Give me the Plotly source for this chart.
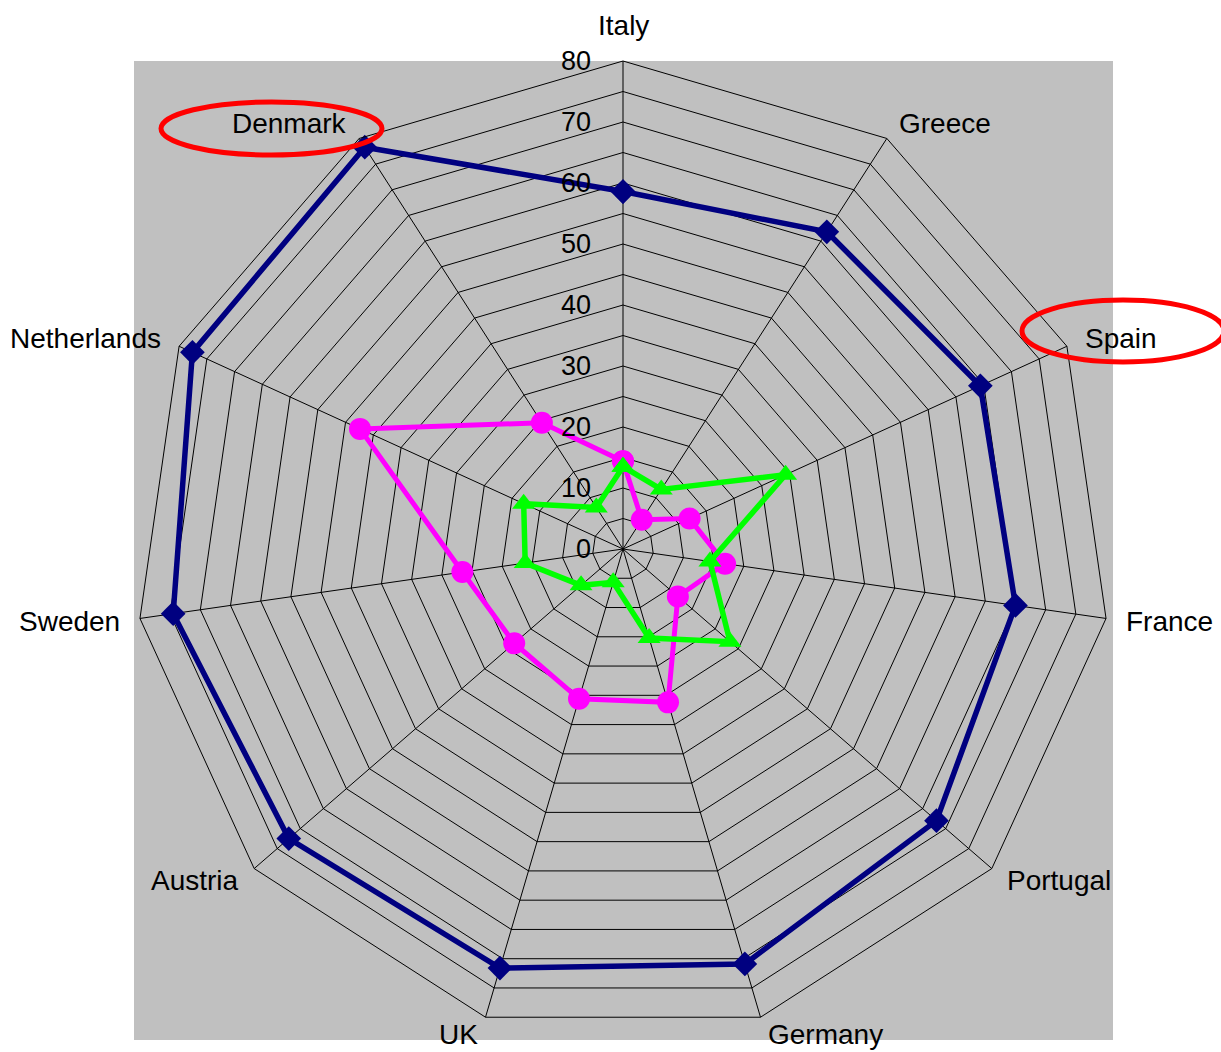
import math
import plotly.graph_objects as go

categories = ["Italy", "Greece", "Spain", "France", "Portugal", "Germany",
              "UK", "Austria", "Sweden", "Netherlands", "Denmark"]
series_blue = [58.6, 61.8, 64.4, 65.0, 68.0, 70.9, 71.6, 72.5, 74.5, 77.6, 78.3]
series_magenta = [14.4, 5.7, 12.0, 16.9, 11.9, 26.2, 25.6, 23.6, 26.6, 47.4, 24.6]
series_green = [13.5, 11.6, 29.3, 14.4, 23.2, 15.2, 5.7, 9.1, 16.2, 17.9, 8.1]
tick_vals = list(range(0, 85, 5))
tick_text = ["0", "", "10", "", "20", "", "30", "", "40", "", "50", "", "60", "", "70", "", "80"]
r_max = 80

W, H = 1221, 1052
ML, MR, MT, MB = 135, 110, 61, 15
PW, PH = W - ML - MR, H - MT - MB


def px_x(x):
    return (x - ML) / PW


def px_y(y):
    return 1 - (y - MT) / PH


def closed(v):
    return v + v[:1]


fig = go.Figure()
fig.add_trace(go.Scatterpolar(
    r=closed(series_blue), theta=closed(categories), mode="lines+markers",
    line=dict(color="#000080", width=5.5),
    marker=dict(symbol="diamond", size=19, color="#000080"),
    showlegend=False))
fig.add_trace(go.Scatterpolar(
    r=closed(series_magenta), theta=closed(categories), mode="lines+markers",
    line=dict(color="#FF00FF", width=5),
    marker=dict(symbol="circle", size=22, color="#FF00FF"),
    showlegend=False))
fig.add_trace(go.Scatterpolar(
    r=closed(series_green), theta=closed(categories), mode="lines+markers",
    line=dict(color="#00FF00", width=5.5),
    marker=dict(symbol="triangle-up", size=20, color="#00FF00"),
    showlegend=False))

font = "Liberation Sans, Arial, sans-serif"

# category labels placed just outside each vertex of the outer polygon
annotations = []
n = len(categories)
cx, cy = 0.5, 0.5
rad_x, rad_y = 0.5, 0.5
gap_px = 18
for i, name in enumerate(categories):
    a = 2 * math.pi * i / n
    s, c = math.sin(a), math.cos(a)
    x = cx + s * (rad_x + gap_px / PW)
    y = cy + c * (rad_y + gap_px / PH)
    xa = "left" if s > 0.2 else ("right" if s < -0.2 else "center")
    ya = "bottom" if c > 0.9 else "middle"
    annotations.append(dict(x=x, y=y, xref="paper", yref="paper", text=name,
                            showarrow=False, xanchor=xa, yanchor=ya,
                            font=dict(size=28, family=font, color="black")))

fig.update_layout(
    width=W, height=H,
    margin=dict(l=ML, r=MR, t=MT, b=MB),
    paper_bgcolor="white",
    font=dict(family=font, size=27, color="black"),
    polar=dict(
        bgcolor="#C0C0C0",
        gridshape="linear",
        domain=dict(x=[0, 1], y=[0, 1]),
        angularaxis=dict(
            rotation=90, direction="clockwise",
            categoryorder="array", categoryarray=categories,
            showline=True, linecolor="black", linewidth=1,
            gridcolor="black", gridwidth=1,
            ticks="", showticklabels=False,
        ),
        radialaxis=dict(
            range=[0, r_max], angle=90, side="counterclockwise",
            tickvals=tick_vals, ticktext=tick_text,
            showline=False, gridcolor="black", gridwidth=1,
            ticks="outside", ticklen=22, tickcolor="rgba(0,0,0,0)",
            tickangle=90,
            tickfont=dict(size=27, family=font, color="black"),
        ),
    ),
    annotations=annotations,
    shapes=[
        dict(type="rect", xref="paper", yref="paper", layer="below",
             x0=px_x(134), x1=px_x(1113), y0=px_y(1040), y1=px_y(61),
             fillcolor="#C0C0C0", line=dict(width=0)),
        dict(type="circle", xref="paper", yref="paper", layer="above",
             x0=px_x(161), x1=px_x(382), y0=px_y(155), y1=px_y(102),
             line=dict(color="red", width=5)),
        dict(type="circle", xref="paper", yref="paper", layer="above",
             x0=px_x(1022), x1=px_x(1224), y0=px_y(362), y1=px_y(300),
             line=dict(color="red", width=5)),
    ],
)

fig.write_html("out.html")
